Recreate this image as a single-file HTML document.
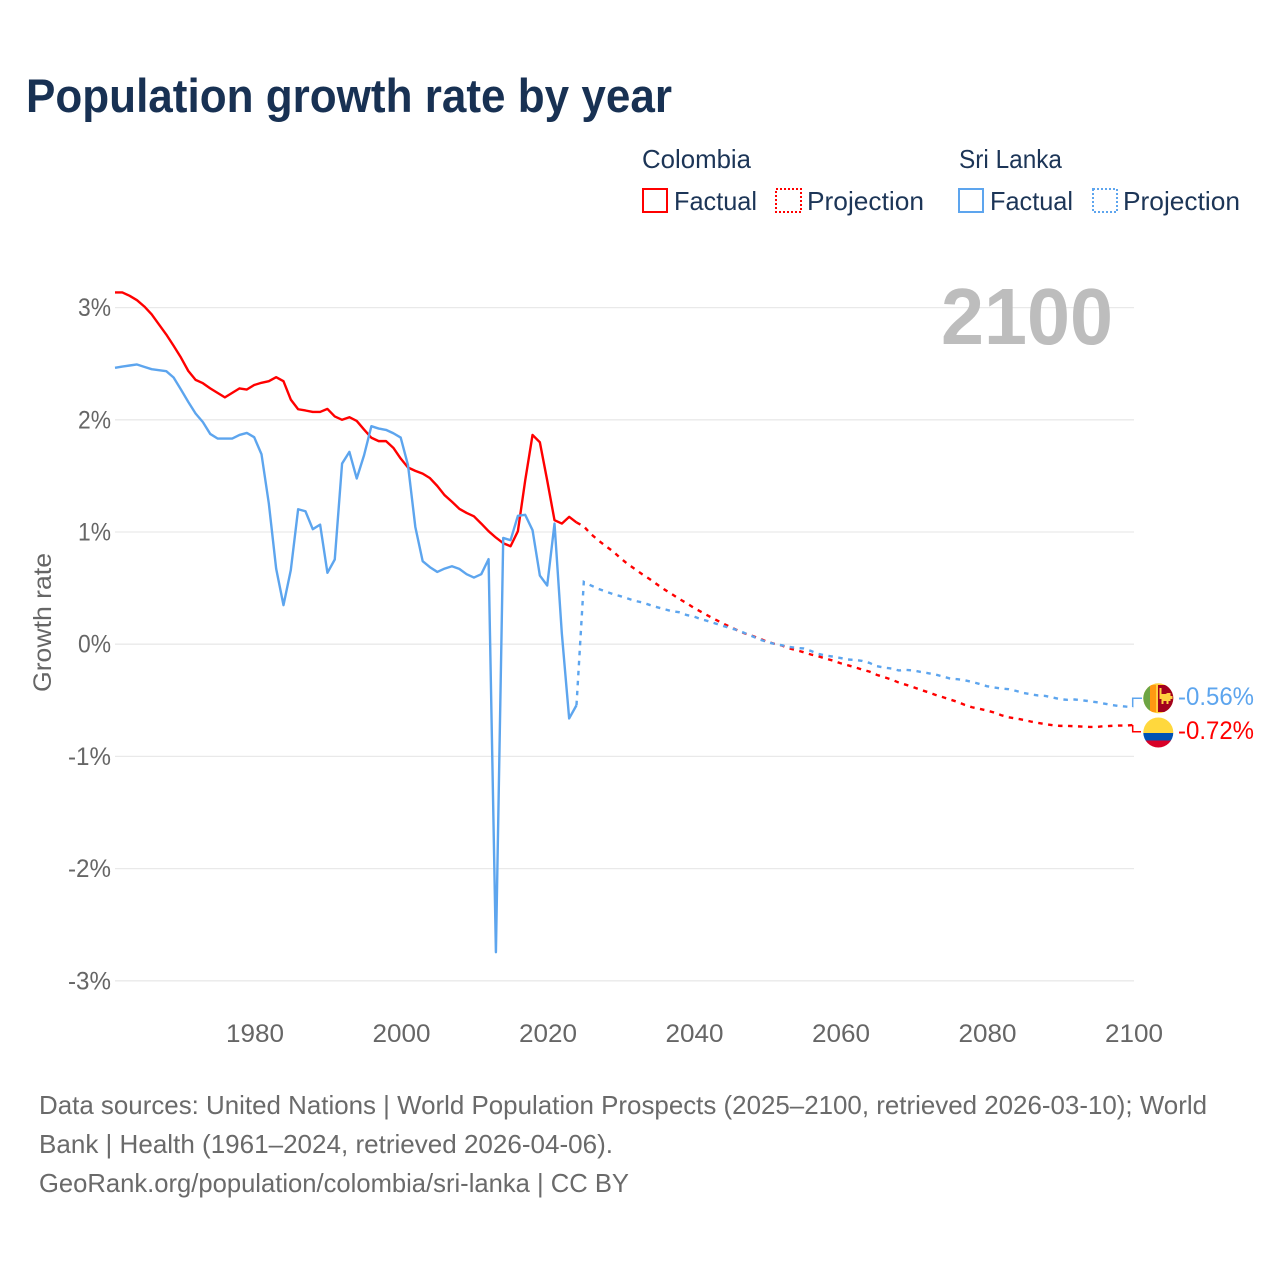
<!DOCTYPE html>
<html lang="en">
<head>
<meta charset="utf-8">
<title>Population growth rate by year</title>
<style>
html,body{margin:0;padding:0;background:#fff;}
svg{display:block;}
text{font-family:"Liberation Sans",sans-serif;}
</style>
</head>
<body>
<svg id="chart" xmlns="http://www.w3.org/2000/svg" width="1280" height="1280" viewBox="0 0 1280 1280">
  <rect x="0" y="0" width="1280" height="1280" fill="#ffffff"/>
  <text x="26" y="112" font-size="47" font-weight="700" fill="#183153" textLength="646" lengthAdjust="spacingAndGlyphs">Population growth rate by year</text>

  <g font-size="26" fill="#1c3557">
    <text x="642" y="168" textLength="109" lengthAdjust="spacingAndGlyphs">Colombia</text>
    <text x="959" y="168" textLength="103" lengthAdjust="spacingAndGlyphs">Sri Lanka</text>
    <rect x="643" y="189" width="24" height="23" fill="none" stroke="#ff0000" stroke-width="2"/>
    <text x="674" y="210" textLength="83" lengthAdjust="spacingAndGlyphs">Factual</text>
    <rect x="776" y="189" width="25" height="23" fill="none" stroke="#ff0000" stroke-width="2" stroke-dasharray="2 2"/>
    <text x="807" y="210" textLength="117" lengthAdjust="spacingAndGlyphs">Projection</text>
    <rect x="959" y="189" width="24" height="23" fill="none" stroke="#5da5ee" stroke-width="2"/>
    <text x="990" y="210" textLength="83" lengthAdjust="spacingAndGlyphs">Factual</text>
    <rect x="1093" y="189" width="24" height="23" fill="none" stroke="#5da5ee" stroke-width="2" stroke-dasharray="2 2"/>
    <text x="1123" y="210" textLength="117" lengthAdjust="spacingAndGlyphs">Projection</text>
  </g>

  <text transform="translate(51,692) rotate(-90)" x="0" y="0" font-size="25" fill="#666666" textLength="139" lengthAdjust="spacingAndGlyphs">Growth rate</text>
  <g id="grid"></g>
  <g id="yticks"></g>
  <g id="xticks"></g>

  <text x="941" y="344" font-size="80" font-weight="700" fill="#bdbdbd" textLength="172" lengthAdjust="spacingAndGlyphs">2100</text>

  <g id="series"></g>

  <g id="flag-sri-lanka">
    <clipPath id="clip-lk"><circle cx="1158.3" cy="698.3" r="15"/></clipPath>
    <g clip-path="url(#clip-lk)">
      <rect x="1143" y="683" width="31" height="31" fill="#ffcf3f"/>
      <rect x="1143" y="685" width="7" height="27" fill="#6da544"/>
      <rect x="1150" y="685" width="6" height="27" fill="#ff9811"/>
      <rect x="1158" y="685" width="16" height="27" fill="#a2001d"/>
      <path d="M1159.5 688h2v6h4l2-1h3v3h2v3h-2v2h-2v3h-2v-3h-3v3h-2v-5h-2z" fill="#ffcf3f"/>
    </g>
  </g>
  <g id="flag-colombia">
    <clipPath id="clip-co"><circle cx="1158.3" cy="732.5" r="15"/></clipPath>
    <g clip-path="url(#clip-co)">
      <rect x="1143" y="717" width="31" height="16" fill="#ffd83d"/>
      <rect x="1143" y="733" width="31" height="7.5" fill="#0052b4"/>
      <rect x="1143" y="740.5" width="31" height="8" fill="#d80027"/>
    </g>
  </g>

  <g id="end-labels"></g>

  <g font-size="26" fill="#6a6a6a">
    <text x="39" y="1114" textLength="1168" lengthAdjust="spacingAndGlyphs">Data sources: United Nations | World Population Prospects (2025–2100, retrieved 2026-03-10); World</text>
    <text x="39" y="1153" textLength="574" lengthAdjust="spacingAndGlyphs">Bank | Health (1961–2024, retrieved 2026-04-06).</text>
    <text x="39" y="1192" textLength="590" lengthAdjust="spacingAndGlyphs">GeoRank.org/population/colombia/sri-lanka | CC BY</text>
  </g>
</svg>
<script>
const firstYear = 1961;
const lastYear = 2100;
const xTickYears = [1980, 2000, 2020, 2040, 2060, 2080, 2100];
const yTickValues = [3, 2, 1, 0, -1, -2, -3];
const yTickLabels = ["3%", "2%", "1%", "0%", "-1%", "-2%", "-3%"];

const colombiaFactual = [3.135,3.135,3.105,3.066,3.01,2.94,2.85,2.76,2.66,2.555,2.436,2.356,2.326,2.28,2.24,2.20,2.24,2.28,2.27,2.31,2.33,2.344,2.38,2.344,2.18,2.094,2.083,2.07,2.07,2.097,2.03,2.00,2.023,1.99,1.913,1.84,1.81,1.81,1.75,1.655,1.575,1.545,1.52,1.48,1.41,1.328,1.27,1.207,1.17,1.14,1.075,1.007,0.95,0.90,0.873,1.007,1.46,1.865,1.80,1.46,1.105,1.075,1.135,1.085];
const colombiaProjection = [1.05,0.98,0.925,0.874,0.827,0.767,0.714,0.669,0.622,0.58,0.533,0.488,0.447,0.405,0.367,0.325,0.289,0.253,0.218,0.185,0.153,0.123,0.095,0.074,0.05,0.022,0.004,-0.011,-0.036,-0.053,-0.071,-0.092,-0.107,-0.128,-0.146,-0.169,-0.187,-0.205,-0.226,-0.244,-0.273,-0.294,-0.315,-0.342,-0.362,-0.383,-0.407,-0.428,-0.452,-0.472,-0.493,-0.514,-0.541,-0.562,-0.576,-0.591,-0.609,-0.633,-0.651,-0.662,-0.674,-0.689,-0.701,-0.713,-0.722,-0.728,-0.728,-0.731,-0.734,-0.737,-0.737,-0.731,-0.728,-0.725,-0.725,-0.72];
const sriLankaFactual = [2.463,2.475,2.484,2.493,2.472,2.451,2.442,2.433,2.377,2.27,2.16,2.056,1.979,1.874,1.833,1.833,1.833,1.865,1.883,1.845,1.693,1.254,0.674,0.348,0.66,1.203,1.185,1.025,1.066,0.636,0.755,1.61,1.714,1.477,1.684,1.943,1.922,1.91,1.88,1.842,1.595,1.045,0.74,0.686,0.644,0.674,0.695,0.671,0.624,0.594,0.624,0.758,-2.745,0.947,0.927,1.144,1.153,1.016,0.612,0.523,1.075,0.095,-0.662,-0.544];
const sriLankaProjection = [0.555,0.523,0.493,0.47,0.446,0.428,0.407,0.386,0.372,0.35,0.33,0.312,0.294,0.285,0.261,0.247,0.223,0.205,0.184,0.163,0.143,0.125,0.098,0.071,0.042,0.02,0.003,-0.009,-0.024,-0.033,-0.038,-0.06,-0.086,-0.101,-0.11,-0.122,-0.136,-0.14,-0.149,-0.167,-0.196,-0.208,-0.217,-0.234,-0.229,-0.234,-0.247,-0.258,-0.27,-0.288,-0.306,-0.312,-0.321,-0.336,-0.354,-0.374,-0.386,-0.395,-0.401,-0.416,-0.434,-0.446,-0.457,-0.461,-0.475,-0.49,-0.496,-0.493,-0.499,-0.508,-0.517,-0.529,-0.541,-0.55,-0.556,-0.56];
const endLabelColombia = "-0.72%";
const endLabelSriLanka = "-0.56%";

const NS = "http://www.w3.org/2000/svg";
const RED = "#ff0000";
const BLUE = "#5da5ee";
function xScale(year) { return 115 + (year - firstYear) * (1133.2 - 115) / (lastYear - firstYear); }
function yScale(v) { return 644.2 - v * 112.2; }
function make(tag, attrs, parent, content) {
  const el = document.createElementNS(NS, tag);
  for (const k in attrs) el.setAttribute(k, attrs[k]);
  if (content !== undefined) el.textContent = content;
  parent.appendChild(el);
  return el;
}
function pathFrom(points) {
  return points.map(function (p, i) { return (i ? "L" : "M") + xScale(p[0]).toFixed(2) + " " + yScale(p[1]).toFixed(2); }).join(" ");
}
function yearSeries(values, startYear) { return values.map(function (v, i) { return [startYear + i, v]; }); }

const grid = document.getElementById("grid");
const yticks = document.getElementById("yticks");
const xticks = document.getElementById("xticks");
const series = document.getElementById("series");
const endLabels = document.getElementById("end-labels");

yTickValues.forEach(function (v, i) {
  const line = make("line", { x1: xScale(firstYear), x2: xScale(lastYear) + 0.8, y1: yScale(v), y2: yScale(v), stroke: "#e9e9e9", "stroke-width": 1.3 }, grid);
  
  
  const label = yTickLabels[i];
  const w = label.length === 2 ? 33 : 43;
  const t = make("text", { x: 111 - w, y: yScale(v) + 8.5, "font-size": 25, fill: "#666666", textLength: w, lengthAdjust: "spacingAndGlyphs" }, yticks, label);
  
  
});
xTickYears.forEach(function (yr) {
  const t = make("text", { x: xScale(yr) - 28.2, y: 1042, "font-size": 25, fill: "#666666", textLength: 58, lengthAdjust: "spacingAndGlyphs" }, xticks, String(yr));
  
  
});

const lkFactualPts = yearSeries(sriLankaFactual, firstYear);
const lkProjPts = [lkFactualPts[lkFactualPts.length - 1]].concat(yearSeries(sriLankaProjection, 2025));
const coFactualPts = yearSeries(colombiaFactual, firstYear);
const coProjPts = [coFactualPts[coFactualPts.length - 1]].concat(yearSeries(colombiaProjection, 2025));

const redFactual = make("path", { d: pathFrom(coFactualPts), fill: "none", stroke: RED, "stroke-width": 2.4, "stroke-linejoin": "round" }, series);


const redProj = make("path", { d: pathFrom(coProjPts), fill: "none", stroke: RED, "stroke-width": 2.4, "stroke-dasharray": "4.5 5.5" }, series);


const blueFactual = make("path", { d: pathFrom(lkFactualPts), fill: "none", stroke: BLUE, "stroke-width": 2.4, "stroke-linejoin": "round" }, series);


const blueProj = make("path", { d: pathFrom(lkProjPts), fill: "none", stroke: BLUE, "stroke-width": 2.4, "stroke-dasharray": "4.5 5.5" }, series);



const lkEnd = sriLankaProjection[sriLankaProjection.length - 1];
const coEnd = colombiaProjection[colombiaProjection.length - 1];
const lkConn = make("path", { d: "M1132.7 " + yScale(lkEnd).toFixed(1) + " V698.3 H1142", fill: "none", stroke: BLUE, "stroke-width": 1.5 }, series);


const coConn = make("path", { d: "M1132.7 " + yScale(coEnd).toFixed(1) + " V731.7 H1141", fill: "none", stroke: RED, "stroke-width": 1.5 }, series);



const lkLabel = make("text", { x: 1178, y: 705, "font-size": 25, fill: BLUE, textLength: 76, lengthAdjust: "spacingAndGlyphs" }, endLabels, endLabelSriLanka);


const coLabel = make("text", { x: 1178, y: 739, "font-size": 25, fill: RED, textLength: 76, lengthAdjust: "spacingAndGlyphs" }, endLabels, endLabelColombia);


</script>
</body>
</html>
